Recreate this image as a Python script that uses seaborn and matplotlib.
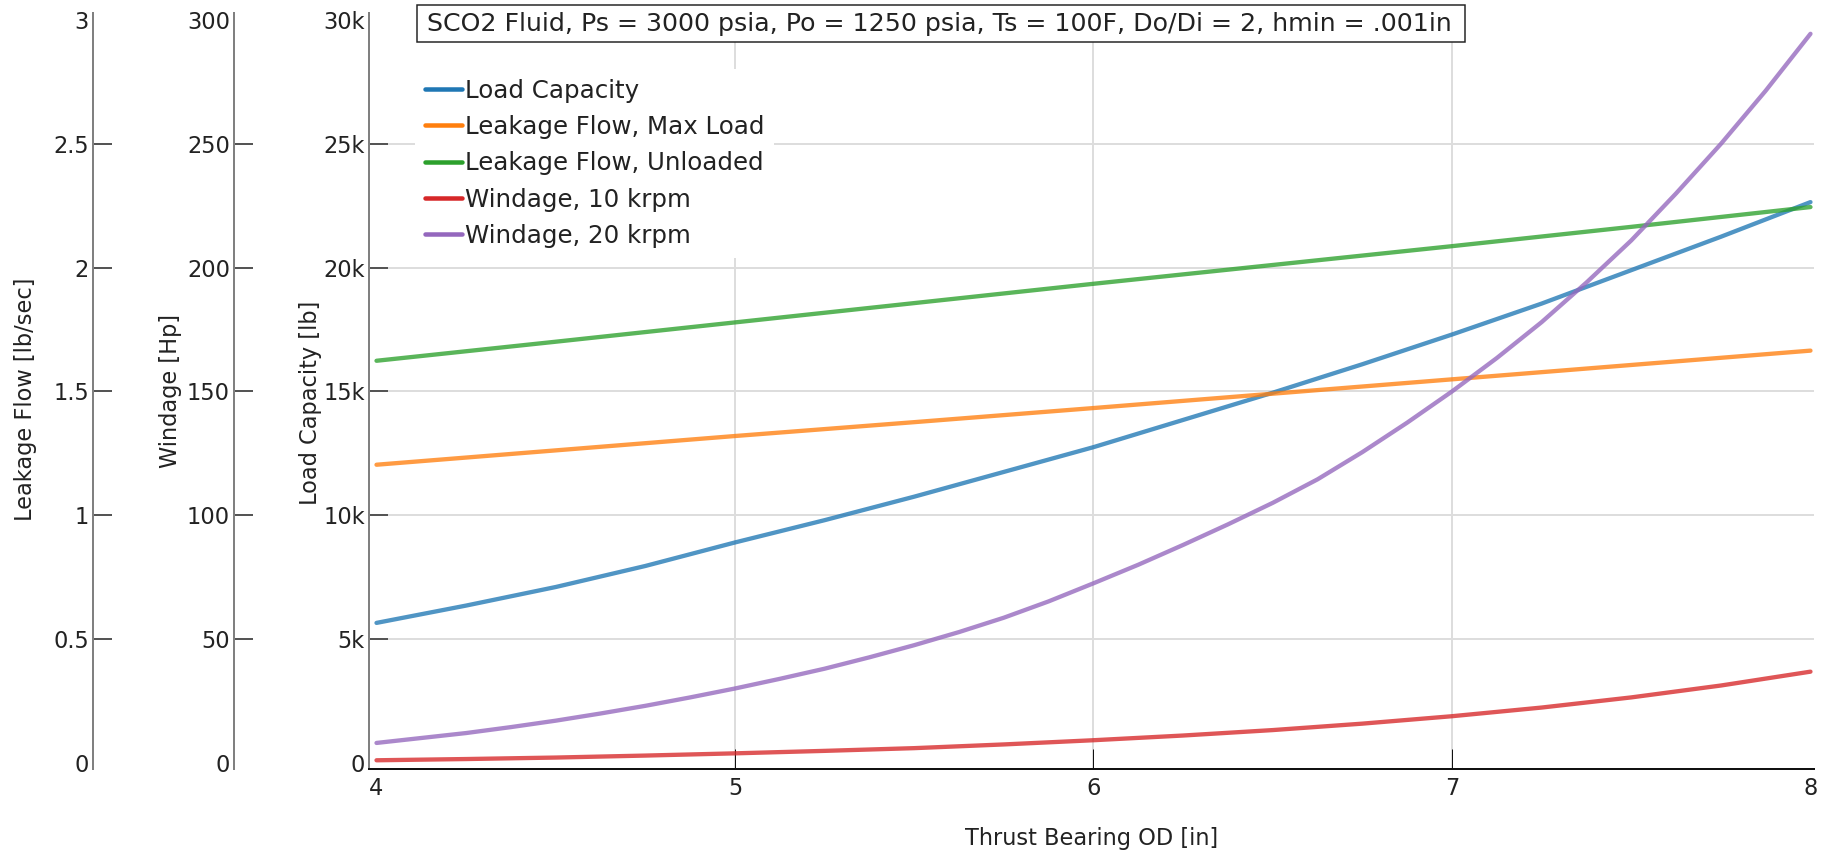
import matplotlib
matplotlib.use("Agg")
import matplotlib.pyplot as plt
from matplotlib.lines import Line2D
from matplotlib.patches import Rectangle
import seaborn as sns

# Thrust bearing outer diameter [in]
od_fine = [4.0, 4.25, 4.5, 4.75, 5.0, 5.25, 5.5, 5.75, 6.0,
           6.25, 6.5, 6.75, 7.0, 7.25, 7.5, 7.75, 8.0]
od_finer = [4.0, 4.125, 4.25, 4.375, 4.5, 4.625, 4.75, 4.875, 5.0,
            5.125, 5.25, 5.375, 5.5, 5.625, 5.75, 5.875, 6.0,
            6.125, 6.25, 6.375, 6.5, 6.625, 6.75, 6.875, 7.0,
            7.125, 7.25, 7.375, 7.5, 7.625, 7.75, 7.875, 8.0]
od_coarse = [4.0, 4.5, 5.0, 5.5, 6.0, 6.5, 7.0, 7.5, 8.0]

# Load capacity [lb]
load_capacity = [5650, 6350, 7100, 7950, 8900, 9800, 10750, 11750, 12750,
                 13850, 14950, 16100, 17300, 18550, 19900, 21250, 22650]

# Leakage flow [lb/sec]
leak_max_load = [1.204, 1.262, 1.320, 1.376, 1.433, 1.491, 1.549, 1.607, 1.665]
leak_unloaded = [1.624, 1.701, 1.779, 1.857, 1.935, 2.011, 2.087, 2.165, 2.245]

# Windage [Hp]
windage_10k = [1.0, 1.5, 2.1, 2.9, 3.8, 4.8, 5.9, 7.4, 9.1,
               11.0, 13.2, 15.8, 18.8, 22.3, 26.4, 31.2, 36.8]
windage_20k = [8.0, 10.0, 12.0, 14.4, 17.0, 19.9, 23.0, 26.4, 30.0,
               33.9, 38.0, 42.6, 47.5, 52.8, 58.6, 65.2, 72.5,
               80.0, 88.0, 96.3, 105.0, 114.5, 125.5, 137.4, 150.0,
               163.5, 178.0, 194.0, 211.0, 230.0, 250.0, 271.5, 294.5]

series_names = ["Load Capacity", "Leakage Flow, Max Load", "Leakage Flow, Unloaded",
                "Windage, 10 krpm", "Windage, 20 krpm"]
series_colors = ["#1f77b4", "#ff7f0e", "#2ca02c", "#d62728", "#9467bd"]

load_ticks = [0, 5000, 10000, 15000, 20000, 25000, 30000]
load_tick_labels = ["0", "5k", "10k", "15k", "20k", "25k", "30k"]
leak_ticks = [0, 0.5, 1, 1.5, 2, 2.5, 3]
leak_tick_labels = ["0", "0.5", "1", "1.5", "2", "2.5", "3"]
wind_ticks = [0, 50, 100, 150, 200, 250, 300]
od_ticks = [4, 5, 6, 7, 8]

title_text = ("SCO2 Fluid, Ps = 3000 psia, Po = 1250 psia, Ts = 100F, "
              "Do/Di = 2, hmin = .001in")

sns.set_style("white")
plt.rcParams["font.family"] = ["DejaVu Sans"]
TXT = "#222222"

W, H = 1827, 856
fig = plt.figure(figsize=(W / 72, H / 72), dpi=72)
L, R, T, B = 369, 1814, 13, 769
ax = fig.add_axes([L / W, 1 - B / H, (R - L) / W, (B - T) / H])
ax_leak = ax.twinx()
ax_wind = ax.twinx()

lo_frac, hi_frac = -0.008417, 1.009667
ax.set_ylim(30000 * lo_frac, 30000 * hi_frac)
ax_leak.set_ylim(3 * lo_frac, 3 * hi_frac)
ax_wind.set_ylim(300 * lo_frac, 300 * hi_frac)
ax.set_xlim(3.9791, 8.0098)

lw, alpha = 4.3, 0.78
sns.lineplot(x=od_fine, y=load_capacity, ax=ax, color=series_colors[0], lw=lw, alpha=alpha)
sns.lineplot(x=od_coarse, y=leak_max_load, ax=ax_leak, color=series_colors[1], lw=lw, alpha=alpha)
sns.lineplot(x=od_coarse, y=leak_unloaded, ax=ax_leak, color=series_colors[2], lw=lw, alpha=alpha)
sns.lineplot(x=od_fine, y=windage_10k, ax=ax_wind, color=series_colors[3], lw=lw, alpha=alpha)
sns.lineplot(x=od_finer, y=windage_20k, ax=ax_wind, color=series_colors[4], lw=lw, alpha=alpha)

# Main axis (load capacity) and x axis
ax.set_xticks(od_ticks)
ax.set_xticklabels([str(t) for t in od_ticks])
ax.set_yticks(load_ticks)
ax.set_yticklabels(load_tick_labels)
for s in ["top", "right"]:
    ax.spines[s].set_visible(False)
ax.spines["left"].set_color("#808080")
ax.spines["left"].set_linewidth(2)
ax.spines["bottom"].set_color("#111111")
ax.spines["bottom"].set_linewidth(2)
ax.tick_params(axis="x", direction="in", length=20, width=1, color="#111111",
               pad=8, labelsize=22.5, labelcolor=TXT, bottom=True)
ax.tick_params(axis="y", direction="in", length=19, width=2, color="#555555",
               pad=4, labelsize=22.5, labelcolor=TXT, left=True)
ax.grid(True, color="#dddddd", lw=2)
ax.set_axisbelow(True)
for i, t in enumerate(ax.yaxis.get_major_ticks()):
    if i in (0, len(load_ticks) - 1):
        t.gridline.set_visible(False)
        t.tick1line.set_visible(False)
for i, t in enumerate(ax.xaxis.get_major_ticks()):
    if i in (0, len(od_ticks) - 1):
        t.gridline.set_visible(False)
        t.tick1line.set_visible(False)
ax.set_xlabel("Thrust Bearing OD [in]", fontsize=22.5, color=TXT, labelpad=27)
ax.set_ylabel("Load Capacity [lb]", fontsize=22.5, color=TXT)
ax.yaxis.set_label_coords((322 - L) / (R - L), 0.484)

# Extra left-hand axes
def style_side_axis(a, offset, ticks, labels, title, label_x, label_y):
    for s in ["top", "right", "bottom"]:
        a.spines[s].set_visible(False)
    a.spines["left"].set_visible(True)
    a.spines["left"].set_position(("outward", offset))
    a.spines["left"].set_color("#808080")
    a.spines["left"].set_linewidth(2)
    a.yaxis.set_ticks_position("left")
    a.yaxis.set_label_position("left")
    a.set_yticks(ticks)
    a.set_yticklabels(labels)
    a.tick_params(axis="y", direction="in", length=19, width=2, color="#555555",
                  pad=4, labelsize=22.5, labelcolor=TXT, left=True, right=False)
    for i, t in enumerate(a.yaxis.get_major_ticks()):
        if i in (0, len(ticks) - 1):
            t.tick1line.set_visible(False)
    a.set_ylabel(title, fontsize=22.5, color=TXT)
    a.yaxis.set_label_coords((label_x - L) / (R - L), label_y)
    a.grid(False)

style_side_axis(ax_leak, L - 93, leak_ticks, leak_tick_labels,
                "Leakage Flow [lb/sec]", 37, 0.489)
style_side_axis(ax_wind, L - 234, wind_ticks, [str(t) for t in wind_ticks],
                "Windage [Hp]", 182, 0.5)

# Legend
handles = [Line2D([], [], color=c, lw=4.5) for c in series_colors]
leg = ax_wind.legend(handles, series_names, loc="upper left",
                     bbox_to_anchor=(415 / W, 1 - 69 / H), bbox_transform=fig.transFigure,
                     frameon=True, fancybox=False, framealpha=1, facecolor="white",
                     edgecolor="none", fontsize=24.5, handlelength=1.5,
                     handletextpad=0.13, labelspacing=0.5, borderpad=0.4,
                     borderaxespad=0)
for txt in leg.get_texts():
    txt.set_color(TXT)

# Title box
fig.patches.append(Rectangle((417 / W, 1 - 42 / H), (1465 - 417) / W, 37 / H,
                             transform=fig.transFigure, fc="white", ec="#222222",
                             lw=1.5, zorder=5))
fig.text(939 / W, 1 - 23.5 / H, title_text, ha="center", va="center",
         fontsize=25.2, color=TXT, zorder=6)

fig.savefig("out.png", dpi=72)
